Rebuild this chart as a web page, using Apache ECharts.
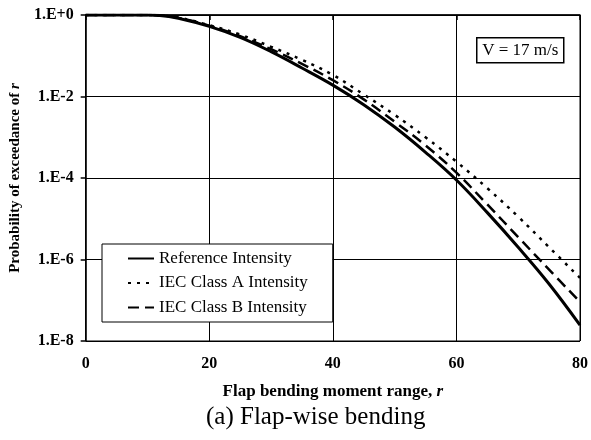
<!DOCTYPE html>
<html>
<head>
<meta charset="utf-8">
<script src="https://cdn.jsdelivr.net/npm/echarts@6/dist/echarts.min.js"></script>
<style>
  html, body { margin: 0; padding: 0; background: #fff; }
  #chart { width: 591px; height: 440px; }
</style>
</head>
<body>
<div id="chart"></div>
<script>
// Flap bending moment range r
const rangeR = [0, 5, 10, 12, 15, 20, 25, 30, 35, 40, 45, 50, 55, 60, 65, 70, 75, 80];

// Probability of exceedance, stored as log10 exponents (1.E+0 ... 1.E-8)
const referenceIntensity = [0, 0, 0, -0.01, -0.08, -0.28, -0.55, -0.9, -1.3, -1.72, -2.2, -2.75, -3.37, -4.05, -4.85, -5.7, -6.6, -7.61];
const iecClassA = [0, 0, 0, -0.01, -0.06, -0.25, -0.48, -0.78, -1.1, -1.47, -1.95, -2.45, -3.0, -3.6, -4.25, -4.95, -5.7, -6.45];
const iecClassB = [0, 0, 0, -0.01, -0.07, -0.26, -0.52, -0.84, -1.2, -1.6, -2.07, -2.62, -3.2, -3.87, -4.65, -5.45, -6.25, -7.04];

const seriesNames = ['Reference Intensity', 'IEC Class A Intensity', 'IEC Class B Intensity'];
const xTicks = [0, 20, 40, 60, 80];
const yExponents = [-8, -6, -4, -2, 0];

const serif = '"Liberation Serif", "Times New Roman", serif';

function pairs(ys) {
  return rangeR.map((x, i) => [x, ys[i]]);
}

function expLabel(v) {
  const e = Math.round(v);
  return '1.E' + (e >= 0 ? '+' + e : String(e));
}

const chart = echarts.init(document.getElementById('chart'));

const lineBase = {
  type: 'line',
  symbol: 'none',
  smooth: 0.4,
  animation: false,
  z: 3
};

chart.setOption({
  backgroundColor: '#fff',
  animation: false,
  grid: {
    left: 81, right: 10, top: 15, bottom: 99,
    show: true, borderColor: '#000', borderWidth: 1
  },
  xAxis: {
    type: 'value',
    min: xTicks[0], max: xTicks[xTicks.length - 1], interval: 20,
    name: '{b|Flap bending moment range, }{i|r}',
    nameLocation: 'middle',
    nameGap: 42,
    nameTextStyle: {
      rich: {
        b: { fontFamily: serif, fontWeight: 'bold', fontSize: 17, color: '#000' },
        i: { fontFamily: serif, fontWeight: 'bold', fontStyle: 'italic', fontSize: 17, color: '#000' }
      }
    },
    axisLine: { lineStyle: { color: '#000', width: 1.5 } },
    axisTick: { show: true, inside: false, length: 5, lineStyle: { color: '#000', width: 1.5 } },
    axisLabel: {
      margin: 15, fontFamily: serif, fontWeight: 'bold', fontSize: 16, color: '#000'
    },
    splitLine: { show: true, lineStyle: { color: '#000', width: 1 } }
  },
  yAxis: {
    type: 'value',
    min: yExponents[0], max: yExponents[yExponents.length - 1], interval: 2,
    name: '{b|Probability of exceedance of }{i|r}',
    nameLocation: 'middle',
    nameRotate: 90,
    nameGap: 56,
    nameTextStyle: {
      rich: {
        b: { fontFamily: serif, fontWeight: 'bold', fontSize: 15, color: '#000' },
        i: { fontFamily: serif, fontWeight: 'bold', fontStyle: 'italic', fontSize: 15, color: '#000' }
      }
    },
    axisLine: { show: true, lineStyle: { color: '#000', width: 1.5 } },
    axisTick: { show: true, inside: false, length: 5, lineStyle: { color: '#000', width: 1.5 } },
    axisLabel: {
      margin: 12, fontFamily: serif, fontWeight: 'bold', fontSize: 16, color: '#000',
      formatter: expLabel
    },
    splitLine: { show: true, lineStyle: { color: '#000', width: 1 } }
  },
  legend: {
    orient: 'vertical',
    left: 102, top: 244,
    padding: [6, 25, 6, 25],
    itemWidth: 26, itemHeight: 17, itemGap: 7.5,
    backgroundColor: '#fff',
    borderColor: '#000', borderWidth: 1,
    itemStyle: { opacity: 0 },
    textStyle: { fontFamily: serif, fontSize: 17, color: '#000' },
    data: seriesNames,
    z: 10
  },
  series: [
    Object.assign({}, lineBase, {
      name: seriesNames[0],
      data: pairs(referenceIntensity),
      lineStyle: { color: '#000', width: 3, type: 'solid' },
      itemStyle: { color: '#000' }
    }),
    Object.assign({}, lineBase, {
      name: seriesNames[1],
      data: pairs(iecClassA),
      lineStyle: { color: '#000', width: 2.5, type: [3, 6] },
      itemStyle: { color: '#000' }
    }),
    Object.assign({}, lineBase, {
      name: seriesNames[2],
      data: pairs(iecClassB),
      lineStyle: { color: '#000', width: 2.5, type: [11, 6] },
      itemStyle: { color: '#000' }
    })
  ],
  graphic: [
    {
      type: 'group', left: 476, top: 37, z: 20,
      children: [
        { type: 'rect', shape: { x: 0, y: 0, width: 87, height: 25 },
          style: { fill: '#fff', stroke: '#000', lineWidth: 1.5 } },
        { type: 'text', x: 43.5, y: 12.5,
          style: { text: 'V = 17 m/s', fontFamily: serif, fontSize: 17, fill: '#000',
                   align: 'center', verticalAlign: 'middle' } }
      ]
    },
    {
      type: 'text', left: 206, top: 405, z: 20,
      style: { text: '(a) Flap-wise bending', fontFamily: serif, fontSize: 25, fill: '#000' }
    }
  ]
});
</script>
</body>
</html>
